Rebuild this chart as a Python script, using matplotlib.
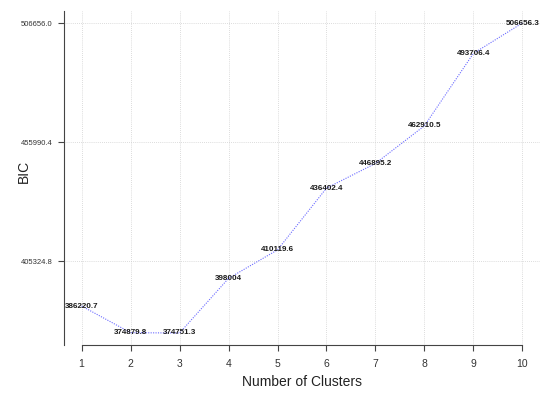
import numpy as np
import matplotlib
matplotlib.use("Agg")
import matplotlib.pyplot as plt

plt.rcParams["font.family"] = ["Liberation Sans", "DejaVu Sans"]

# BIC values per number of clusters
clusters = np.arange(1, 11)
bic = [386220.7, 374879.8, 374751.3, 398004, 410119.6,
       436402.4, 446895.2, 462910.5, 493706.4, 506656.3]
bic_labels = ["386220.7", "374879.8", "374751.3", "398004", "410119.6",
              "436402.4", "446895.2", "462910.5", "493706.4", "506656.3"]
y_ticks = [405324.8, 455990.4, 506656.0]
y_tick_labels = ["405324.8", "455990.4", "506656.0"]

fig = plt.figure(figsize=(5.5, 3.95), dpi=100)
ax = fig.add_axes([64 / 550, 1 - 345.4 / 395, (540 - 64) / 550, (345.4 - 10.6) / 395])

# R-style 4% padding
xr = clusters.max() - clusters.min()
yr = max(bic) - min(bic)
ax.set_xlim(clusters.min() - 0.04 * xr, clusters.max() + 0.04 * xr)
ax.set_ylim(min(bic) - 0.04 * yr, max(bic) + 0.04 * yr)

# dotted grid
for xv in clusters:
    ax.axvline(xv, color="#d0d0d0", lw=0.6, ls=(0, (1, 1.5)), zorder=0)
for yv in y_ticks:
    ax.axhline(yv, color="#d0d0d0", lw=0.6, ls=(0, (1, 1.5)), zorder=0)

ax.plot(clusters, bic, color="#6a6aff", lw=0.8, ls=(0, (1, 1.2)), zorder=2)
for xv, yv, lab in zip(clusters, bic, bic_labels):
    ax.text(xv, yv, lab, ha="center", va="center", fontsize=5.8,
            fontweight="bold", color="#1a1a1a", zorder=3)

ax.set_xticks(clusters)
ax.set_xticklabels([str(c) for c in clusters], fontsize=7.5, color="#333333")
ax.set_yticks(y_ticks)
ax.set_yticklabels(y_tick_labels, fontsize=5.5, color="#333333")
ax.tick_params(axis="both", length=4.5, width=0.8, color="#444444")
ax.tick_params(axis="y", pad=4)
ax.tick_params(axis="x", pad=5)

for s in ["top", "right"]:
    ax.spines[s].set_visible(False)
ax.spines["bottom"].set_bounds(clusters.min(), clusters.max())
for s in ["bottom", "left"]:
    ax.spines[s].set_color("#444444")
    ax.spines[s].set_linewidth(0.8)

ax.set_xlabel("Number of Clusters", fontsize=10, color="#222222")
ax.xaxis.set_label_coords(0.5, -(382 - 345.4) / (345.4 - 10.6), transform=ax.transAxes)
ax.set_ylabel("BIC", fontsize=10, color="#222222")
ax.yaxis.set_label_coords(-(64 - 24) / (540 - 64), (345.4 - 171) / (345.4 - 10.6))
ax.yaxis.label.set_va("center")
ax.xaxis.label.set_va("center")

fig.savefig("out.png", dpi=100)
